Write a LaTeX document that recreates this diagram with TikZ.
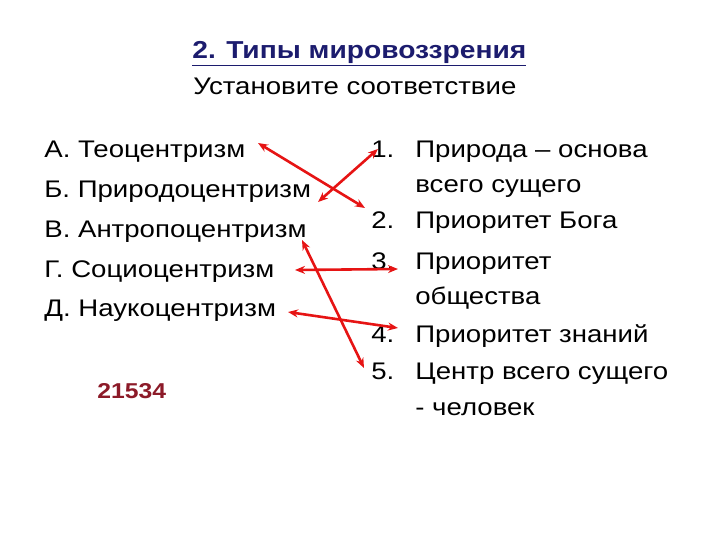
\documentclass[tikz,border=0pt]{standalone}
\usepackage{fontspec}
\setmainfont[FakeStretch=1.15]{Liberation Sans}
\usetikzlibrary{arrows.meta}

\definecolor{titleblue}{RGB}{28,28,110}
\definecolor{keyred}{RGB}{140,26,40}
\definecolor{linkred}{RGB}{230,20,20}

\tikzset{every picture/.style={line width=0.75pt}}
\tikzset{
  item/.style={anchor=base west,inner sep=0pt,font=\fontsize{24}{28}\selectfont},
  link/.style={draw=linkred,line width=2.6pt,{Stealth[length=10pt,width=8pt]}-{Stealth[length=10pt,width=8pt]}}
}

\begin{document}
\begin{tikzpicture}[x=1pt,y=-1pt]
\useasboundingbox (0,0) rectangle (720,540);

% Text Node
\node (title) [item,text=titleblue,font=\fontsize{24.5}{28}\bfseries] at (192,59) {\underline{2. Типы мировоззрения}};
% Text Node
\node (task) [item] at (193,95) {Установите соответствие};

% Text Node
\node (la) [item] at (44,158) {А. Теоцентризм};
% Text Node
\node (lb) [item] at (44,198) {Б. Природоцентризм};
% Text Node
\node (lv) [item] at (44,237) {В. Антропоцентризм};
% Text Node
\node (lg) [item] at (44,277) {Г. Социоцентризм};
% Text Node
\node (ld) [item] at (44,316) {Д. Наукоцентризм};
% Text Node
\node (key) [item,text=keyred,font=\fontsize{21.5}{25}\bfseries] at (97,398) {21534};

% Text Node
\node (n1) [item] at (371,158) {1.};
\node (r1) [item] at (415,158) {Природа – основа};
\node (r1b) [item] at (415,193) {всего сущего};
% Text Node
\node (n2) [item] at (371,229) {2.};
\node (r2) [item] at (415,229) {Приоритет Бога};
% Text Node
\node (n3) [item] at (371,269) {3.};
\node (r3) [item] at (415,269) {Приоритет};
\node (r3b) [item] at (415,304) {общества};
% Text Node
\node (n4) [item] at (371,342) {4.};
\node (r4) [item] at (415,342) {Приоритет знаний};
% Text Node
\node (n5) [item] at (371,379) {5.};
\node (r5) [item] at (415,379) {Центр всего сущего};
\node (r5b) [item] at (415,415) {- человек};

% arrow ends
\coordinate (ea) at (258,143);
\coordinate (e2) at (365,208);
\coordinate (eb) at (318,202);
\coordinate (e1) at (378,149);
\coordinate (eg) at (295,270);
\coordinate (e3) at (398,269);
\coordinate (ed) at (288,312);
\coordinate (e4) at (398,328);
\coordinate (ev) at (302,240);
\coordinate (e5) at (364,368);

%Straight Lines
\draw [link] (ea) -- (e2);
%Straight Lines
\draw [link] (eb) -- (e1);
%Straight Lines
\draw [link] (eg) -- (e3);
%Straight Lines
\draw [link] (ed) -- (e4);
%Straight Lines
\draw [link] (ev) -- (e5);

\end{tikzpicture}
\end{document}
